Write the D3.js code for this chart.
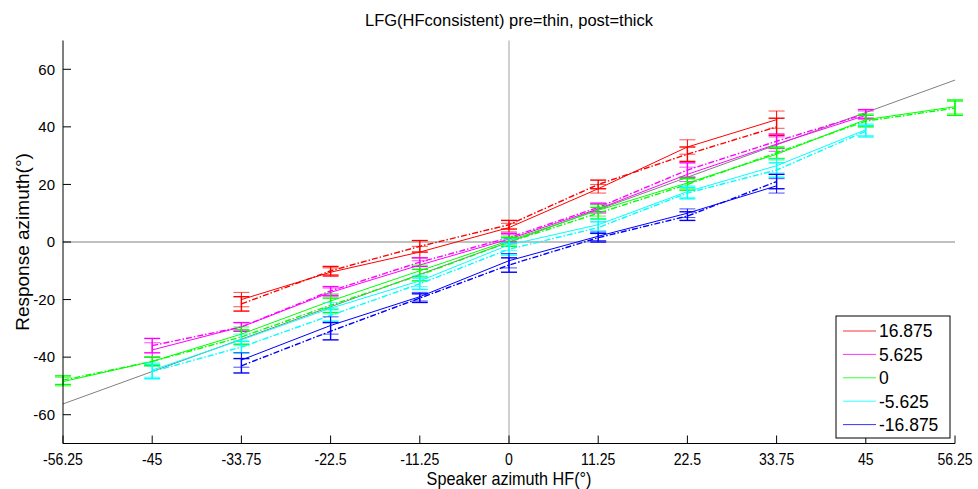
<html>
<head>
    <script src="https://d3js.org/d3.v7.min.js"></script>
    <style>
        body { margin: 0; background: #fff; }
        text { font-family: Arial, "Liberation Sans", sans-serif; fill: #000; }
    </style>
</head>
<body>
<svg width="978" height="489"></svg>
<script>
    // speaker azimuths (x ticks)
    const xTicks = [-56.25, -45, -33.75, -22.5, -11.25, 0, 11.25, 22.5, 33.75, 45, 56.25];
    const yTicks = [-60, -40, -20, 0, 20, 40, 60];

    const names = ["16.875", "5.625", "0", "-5.625", "-16.875"];
    const colors = ["#ff0000", "#ff00ff", "#00ff00", "#00ffff", "#0000ff"];

    // x positions for each condition
    const xRed = [-33.75, -22.5, -11.25, 0, 11.25, 22.5, 33.75];
    const xMag = [-45, -33.75, -22.5, -11.25, 0, 11.25, 22.5, 33.75, 45];
    const xGreen = [-56.25, -45, -33.75, -22.5, -11.25, 0, 11.25, 22.5, 33.75, 45, 56.25];
    const xCyan = [-45, -33.75, -22.5, -11.25, 0, 11.25, 22.5, 33.75, 45];
    const xBlue = [-33.75, -22.5, -11.25, 0, 11.25, 22.5, 33.75];

    // pre (thin, solid) means
    const preRed = [-20, -10.5, -3.5, 5, 18.5, 33, 42.5];
    const preMag = [-37.5, -29.5, -17.5, -8, 1, 11.5, 23.5, 34, 44];
    const preGreen = [-48.5, -41.5, -32, -20.5, -10, 0.5, 11, 20.5, 30.5, 42.5, 47];
    const preCyan = [-44.5, -34, -23, -13.5, -1, 6, 17.5, 26.5, 39];
    const preBlue = [-41, -29, -19, -6.5, 2, 10, 19.5];

    // post (dash-dot) means
    const postRed = [-21.5, -10, -1.5, 6, 20, 30.5, 40];
    const postMag = [-36, -29.5, -17, -7, 1.5, 12, 25, 35, 44.5];
    const postGreen = [-48, -41.5, -33, -22, -11.5, 0, 10, 20, 31, 42, 46.5];
    const postCyan = [-45, -36.5, -25.5, -14.5, -2.5, 5, 17, 25, 38.5];
    const postBlue = [-43, -31, -19.5, -8, 1.5, 9, 21];

    // error bar half lengths
    const errRed = [2.5, 1.5, 2, 1.5, 1.5, 2.5, 3];
    const errMag = [2.5, 1.5, 1.5, 1.5, 1.5, 1.5, 2.5, 2.5, 1.5];
    const errGreen = [1.5, 1.5, 2.5, 2.5, 2, 1.5, 2, 2, 2, 2, 2.5];
    const errCyan = [2.5, 2, 2, 2, 2, 2, 2, 2.5, 2];
    const errBlue = [2.5, 3, 1.5, 2.5, 1.5, 1.5, 2.5];

    const series = [
        { x: xRed, pre: preRed, post: postRed, err: errRed },
        { x: xMag, pre: preMag, post: postMag, err: errMag },
        { x: xGreen, pre: preGreen, post: postGreen, err: errGreen },
        { x: xCyan, pre: preCyan, post: postCyan, err: errCyan },
        { x: xBlue, pre: preBlue, post: postBlue, err: errBlue }
    ];

    const svg = d3.select("svg");

    const x = d3.scaleLinear().domain([-56.25, 56.25]).range([63, 955]);
    const y = d3.scaleLinear().domain([-70, 70]).range([443.5, 40.5]);

    // zero lines and diagonal
    svg.append("line")
        .attr("x1", x(-56.25)).attr("x2", x(56.25))
        .attr("y1", y(0)).attr("y2", y(0))
        .attr("stroke", "#808080").attr("stroke-width", 1);
    svg.append("line")
        .attr("x1", x(0)).attr("x2", x(0))
        .attr("y1", y(70)).attr("y2", y(-70))
        .attr("stroke", "#a0a0a0").attr("stroke-width", 1);
    svg.append("line")
        .attr("x1", x(-56.25)).attr("x2", x(56.25))
        .attr("y1", y(-56.25)).attr("y2", y(56.25))
        .attr("stroke", "#808080").attr("stroke-width", 1);

    const line = d3.line().x(d => x(d[0])).y(d => y(d[1]));

    series.forEach((s, i) => {
        const g = svg.append("g");
        ["pre", "post"].forEach(k => {
            const pts = s.x.map((v, j) => [v, s[k][j]]);
            g.append("path")
                .attr("d", line(pts))
                .attr("fill", "none")
                .attr("stroke", colors[i])
                .attr("stroke-width", k === "pre" ? 1 : 1.4)
                .attr("stroke-dasharray", k === "pre" ? null : "6,2,1.5,2");

            // error bars
            pts.forEach((p, j) => {
                const e = s.err[j];
                const cx = x(p[0]);
                g.append("line")
                    .attr("x1", cx).attr("x2", cx)
                    .attr("y1", y(p[1] - e)).attr("y2", y(p[1] + e))
                    .attr("stroke", colors[i]).attr("stroke-width", k === "pre" ? 1 : 1.4);
                [p[1] - e, p[1] + e].forEach(v => {
                    g.append("line")
                        .attr("x1", cx - 8).attr("x2", cx + 8)
                        .attr("y1", y(v)).attr("y2", y(v))
                        .attr("stroke", colors[i])
                        .attr("stroke-opacity", k === "pre" ? 0.7 : 1)
                        .attr("stroke-width", k === "pre" ? 1 : 1.4);
                });
            });
        });
    });

    // axes (box off, ticks inside)
    const yAxis = svg.append("g").attr("transform", `translate(${x(-56.25)},0)`);
    yAxis.append("line").attr("x1", 0).attr("x2", 0).attr("y1", y(70)).attr("y2", y(-70))
        .attr("stroke", "#000");
    yTicks.forEach(t => {
        yAxis.append("line").attr("x1", 0).attr("x2", 8).attr("y1", y(t)).attr("y2", y(t))
            .attr("stroke", "#000");
        yAxis.append("text").attr("x", -8).attr("y", y(t)).attr("dy", "0.35em")
            .attr("text-anchor", "end").style("font-size", "15px").text(t);
    });

    // x labels are drawn squeezed, like the original
    const xAxis = svg.append("g").attr("transform", `translate(0,${y(-70)})`);
    xAxis.append("line").attr("x1", x(-56.25)).attr("x2", x(56.25)).attr("y1", 0).attr("y2", 0)
        .attr("stroke", "#000");
    xTicks.forEach(t => {
        xAxis.append("line").attr("x1", x(t)).attr("x2", x(t)).attr("y1", 0).attr("y2", -8)
            .attr("stroke", "#000");
        xAxis.append("text")
            .attr("transform", `translate(${x(t)},21) scale(0.88,1)`)
            .attr("text-anchor", "middle").style("font-size", "16px").text(t);
    });

    // titles
    svg.append("text").attr("x", 509).attr("y", 26).attr("text-anchor", "middle")
        .style("font-size", "16.5px").text("LFG(HFconsistent) pre=thin, post=thick");
    svg.append("text")
        .attr("transform", "translate(509,485) scale(0.9,1)")
        .attr("text-anchor", "middle")
        .style("font-size", "18px").text("Speaker azimuth HF(°)");
    svg.append("text").attr("transform", `translate(29,${y(0)}) rotate(-90)`).attr("text-anchor", "middle")
        .style("font-size", "19px").text("Response azimuth(°)");

    // legend
    const lg = svg.append("g").attr("transform", "translate(836,316)");
    lg.append("rect").attr("width", 114).attr("height", 122)
        .attr("fill", "#fff").attr("stroke", "#000");
    names.forEach((n, i) => {
        const ly = 15 + i * 23.4;
        lg.append("line").attr("x1", 7).attr("x2", 40).attr("y1", ly).attr("y2", ly)
            .attr("stroke", colors[i]).attr("stroke-opacity", 0.8);
        lg.append("text").attr("x", 43).attr("y", ly).attr("dy", "0.36em")
            .style("font-size", "17.5px").text(n);
    });
</script>
</body>
</html>
